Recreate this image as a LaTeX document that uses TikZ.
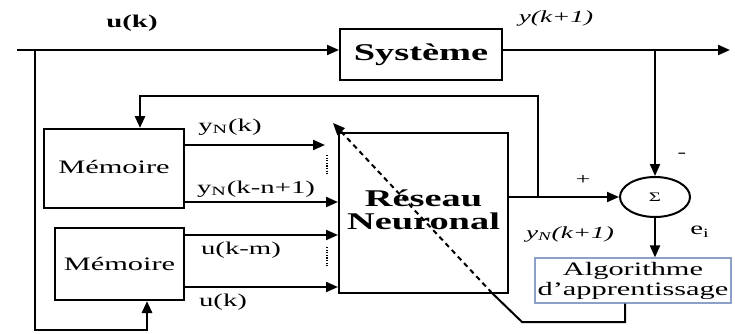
\documentclass[tikz,border=0pt]{standalone}
\usepackage{fontspec}
\usepackage{graphicx}
\setmainfont{Liberation Serif}
\newcommand{\W}[1]{\scalebox{1.6}[1]{#1}}
\usetikzlibrary{arrows.meta,shapes.geometric}
\begin{document}
\begin{tikzpicture}[x=1pt,y=-1pt,
  box/.style={draw, line width=2pt, inner sep=0pt},
  ln/.style={line width=2pt},
  thk/.style={line width=2.8pt},
  tip/.style={-{Triangle[length=12pt,width=10pt]}},
  lbl/.style={font=\fontsize{18}{20}\selectfont, inner sep=0pt},
  big/.style={font=\fontsize{24}{27}\selectfont\bfseries},
  reg/.style={font=\fontsize{19}{22}\selectfont},
  dotsline/.style={line width=1.8pt, dash pattern=on 1.2pt off 1.4pt},
]
\useasboundingbox (0,0) rectangle (735,334);

% blocks
\node[box, big, minimum width=162pt, minimum height=51pt] (sys) at (421,54.5) {\W{Système}};
\node[box, reg, minimum width=140pt, minimum height=79pt] (mem1) at (114,168.5) {\raisebox{4pt}{\W{Mémoire}}\hspace{18pt}};
\node[box, reg, minimum width=129pt, minimum height=72pt] (mem2) at (119.5,264) {\W{Mémoire}\hspace{9pt}};
\node[box, big, minimum width=169pt, minimum height=160pt] (nn) at (423.5,213)
  {\W{\begin{tabular}{@{}c@{}}Réseau\\[-4pt]Neuronal\end{tabular}}};
\node[ellipse, draw, line width=2pt, inner sep=0pt, minimum width=70pt, minimum height=40pt,
      font=\fontsize{13}{15}\selectfont] (sum) at (655,197) {\W{Σ}\hspace{24pt}};
\node[draw={rgb,255:red,140;green,160;blue,200}, line width=1.2pt, inner sep=0pt,
      minimum width=196pt, minimum height=45pt, font=\fontsize{19}{23}\selectfont] (algo) at (633,280.5)
      {\W{\begin{tabular}{@{}c@{}}Algorithme\\[-3pt]d’apprentissage\end{tabular}}};

% coordinates
\coordinate (in) at (17,50);
\coordinate (out) at (730,50);
\coordinate (br) at (655,50);
\coordinate (lt) at (35,50);
\coordinate (lb) at (35,330);
\coordinate (fb) at (538,197);
\coordinate (fbt) at (538,96);
\coordinate (a1) at (325,145);
\coordinate (a2) at (0,202);
\coordinate (a3) at (0,235);
\coordinate (a4) at (0,287);
\coordinate (d1) at (327,155);
\coordinate (d2) at (327,175);
\coordinate (d3) at (327,247);
\coordinate (d4) at (327,267);
\coordinate (c1) at (625,322);
\coordinate (c2) at (522,322);
\coordinate (c3) at (492,293);
\coordinate (ct) at (333,123);

% connectors
\draw[ln, tip] (in) -- (sys.west |- in);
\draw[ln, tip] (sys.east |- out) -- (out);
\draw[ln, tip] (br) -- (sum.north);
\draw[thk, tip] (lt) -- (lb) -| ([xshift=27.5pt]mem2.south);
\draw[thk, tip] (fb) -- (fbt) -| ([xshift=26pt]mem1.north);
\draw[ln, tip] (nn.east |- sum) -- (sum.west);
\draw[ln, tip] (mem1.east |- a1) -- (a1);
\draw[ln, tip] (mem1.east |- a2) -- (nn.west |- a2);
\draw[ln, tip] (mem2.east |- a3) -- (nn.west |- a3);
\draw[ln, tip] (mem2.east |- a4) -- (nn.west |- a4);
\draw[dotsline] (d1) -- (d2);
\draw[dotsline] (d3) -- (d4);
\draw[ln, tip] (sum.south) -- (sum.south |- algo.north);
\draw[ln] ([xshift=-8pt]algo.south) -- (c1) -- (c2) -- (c3);
\draw[ln, dash pattern=on 5pt off 4pt, tip] (c3) -- (ct);

% labels
\node[lbl, font=\fontsize{18}{20}\selectfont\bfseries] (luk) at (132,23) {\W{u(k)}};
\node[lbl, font=\fontsize{17}{20}\selectfont\itshape] (lyk) at (556,18) {\W{y(k+1)}};
\node[lbl] (lyn1) at (230,127) {\W{y\textsubscript{N}(k)}};
\node[lbl] (lyn2) at (256,189) {\W{y\textsubscript{N}(k-n+1)}};
\node[lbl] (lukm) at (241,250) {\W{u(k-m)}};
\node[lbl] (luk2) at (223,302) {\W{u(k)}};
\node[lbl, font=\fontsize{16}{18}\selectfont] (lplus) at (583,180) {\W{+}};
\node[lbl, font=\fontsize{16}{18}\selectfont] (lminus) at (682,155) {\W{-}};
\node[lbl] (lei) at (700,232) {\W{e\textsubscript{i}}};
\node[lbl, font=\fontsize{17}{20}\selectfont\itshape] (lynk) at (570,234) {\W{y\textsubscript{N}(k+1)}};
\end{tikzpicture}
\end{document}
